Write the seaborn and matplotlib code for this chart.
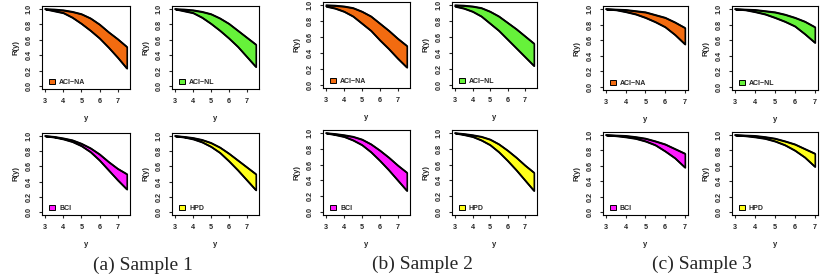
import matplotlib
matplotlib.use("Agg")
import matplotlib.pyplot as plt
from matplotlib.patches import Patch
import seaborn as sns

y_12 = [3.0, 3.5, 4.0, 4.5, 5.0, 5.5, 6.0, 6.5, 7.0, 7.5]
y_3 = [3.0, 3.5, 4.0, 4.5, 5.0, 5.5, 6.0, 6.5, 7.0]

methods = ["ACI\u2212NA", "ACI\u2212NL", "BCI", "HPD"]
fill_colors = ["#F26B10", "#66F23A", "#FF1AFF", "#FFFF1A"]
captions = ["(a) Sample 1", "(b) Sample 2", "(c) Sample 3"]

# Sample 1 : upper / lower bounds
s1_acina_up = [1.00, 0.995, 0.985, 0.965, 0.935, 0.88, 0.80, 0.70, 0.61, 0.51]
s1_acina_lo = [1.00, 0.975, 0.95, 0.89, 0.81, 0.72, 0.62, 0.50, 0.37, 0.23]
s1_acinl_up = [1.00, 0.995, 0.985, 0.965, 0.935, 0.88, 0.81, 0.72, 0.63, 0.54]
s1_acinl_lo = [1.00, 0.975, 0.95, 0.89, 0.81, 0.72, 0.62, 0.51, 0.38, 0.25]
s1_bci_up = [1.00, 0.99, 0.97, 0.945, 0.90, 0.84, 0.76, 0.66, 0.57, 0.50]
s1_bci_lo = [1.00, 0.985, 0.96, 0.925, 0.87, 0.79, 0.68, 0.55, 0.42, 0.30]
s1_hpd_up = [1.00, 0.99, 0.975, 0.95, 0.91, 0.85, 0.77, 0.68, 0.59, 0.50]
s1_hpd_lo = [1.00, 0.985, 0.96, 0.92, 0.86, 0.78, 0.67, 0.55, 0.42, 0.29]

# Sample 2
s2_acina_up = [1.00, 0.995, 0.985, 0.965, 0.92, 0.86, 0.77, 0.68, 0.58, 0.49]
s2_acina_lo = [0.985, 0.96, 0.92, 0.86, 0.77, 0.68, 0.56, 0.45, 0.33, 0.22]
s2_acinl_up = [1.00, 0.995, 0.985, 0.965, 0.92, 0.86, 0.78, 0.70, 0.61, 0.52]
s2_acinl_lo = [0.985, 0.96, 0.92, 0.86, 0.77, 0.68, 0.57, 0.46, 0.35, 0.24]
s2_bci_up = [1.00, 0.99, 0.975, 0.955, 0.92, 0.86, 0.78, 0.69, 0.59, 0.50]
s2_bci_lo = [1.00, 0.98, 0.955, 0.91, 0.85, 0.76, 0.65, 0.53, 0.40, 0.27]
s2_hpd_up = [1.00, 0.99, 0.975, 0.955, 0.92, 0.86, 0.78, 0.69, 0.59, 0.50]
s2_hpd_lo = [1.00, 0.98, 0.955, 0.91, 0.85, 0.76, 0.65, 0.53, 0.40, 0.27]

# Sample 3
s3_acina_up = [1.00, 0.995, 0.99, 0.975, 0.96, 0.925, 0.89, 0.83, 0.76]
s3_acina_lo = [1.00, 0.99, 0.965, 0.935, 0.89, 0.835, 0.77, 0.67, 0.55]
s3_acinl_up = [1.00, 0.995, 0.99, 0.975, 0.96, 0.93, 0.89, 0.84, 0.77]
s3_acinl_lo = [1.00, 0.99, 0.965, 0.935, 0.89, 0.84, 0.78, 0.68, 0.57]
s3_bci_up = [1.00, 0.995, 0.99, 0.975, 0.955, 0.92, 0.88, 0.82, 0.76]
s3_bci_lo = [1.00, 0.99, 0.975, 0.955, 0.92, 0.87, 0.79, 0.70, 0.58]
s3_hpd_up = [1.00, 0.995, 0.99, 0.975, 0.955, 0.92, 0.88, 0.82, 0.76]
s3_hpd_lo = [1.00, 0.99, 0.975, 0.955, 0.92, 0.87, 0.80, 0.71, 0.59]

samples = [
    (y_12, [(s1_acina_up, s1_acina_lo), (s1_acinl_up, s1_acinl_lo),
            (s1_bci_up, s1_bci_lo), (s1_hpd_up, s1_hpd_lo)]),
    (y_12, [(s2_acina_up, s2_acina_lo), (s2_acinl_up, s2_acinl_lo),
            (s2_bci_up, s2_bci_lo), (s2_hpd_up, s2_hpd_lo)]),
    (y_3, [(s3_acina_up, s3_acina_lo), (s3_acinl_up, s3_acinl_lo),
           (s3_bci_up, s3_bci_lo), (s3_hpd_up, s3_hpd_lo)]),
]

sns.set_style("ticks")
plt.rcParams["font.family"] = ["Liberation Sans", "DejaVu Sans"]

W, H = 828, 279
fig = plt.figure(figsize=(W / 100, H / 100), dpi=100)

# panel boxes in pixels: (left, right, top, bottom) for TL, TR, BL, BR
boxes = [
    [(42, 130, 6, 89), (172, 259, 6, 89), (42, 130, 133, 215), (172, 259, 133, 215)],
    [(323, 410, 2, 88), (452, 537, 2, 88), (323, 410, 130, 215), (452, 537, 130, 215)],
    [(603, 688, 6, 90), (732, 818, 6, 90), (603, 688, 132, 215), (732, 818, 132, 215)],
]
caption_pos = [(143, 265), (422, 264), (702, 264)]

for si, (grid, bands) in enumerate(samples):
    for k, (up, lo) in enumerate(bands):
        l, r, t, b = boxes[si][k]
        ax = fig.add_axes([l / W, 1 - b / H, (r - l) / W, (b - t) / H])
        ax.fill_between(grid, lo, up, facecolor=fill_colors[k],
                        edgecolor="black", linewidth=1.2)
        sns.lineplot(x=grid, y=up, ax=ax, color="black", lw=1.2)
        sns.lineplot(x=grid, y=lo, ax=ax, color="black", lw=1.2)
        span = grid[-1] - grid[0]
        ax.set_xlim(grid[0] - 0.04 * span, grid[-1] + 0.04 * span)
        ax.set_ylim(-0.04, 1.04)
        ax.set_xticks([3, 4, 5, 6, 7])
        ax.set_yticks([0.0, 0.2, 0.4, 0.6, 0.8, 1.0])
        ax.set_yticklabels(["0.0", "0.2", "0.4", "0.6", "0.8", "1.0"],
                           rotation=90, va="center")
        ax.tick_params(labelsize=5.2, length=2.5, width=0.8, pad=4)
        for lab in ax.get_xticklabels() + ax.get_yticklabels():
            lab.set_fontweight("bold")
        for sp in ax.spines.values():
            sp.set_visible(True)
            sp.set_linewidth(0.8)
            sp.set_color("black")
        ax.set_xlabel("y", fontsize=5.5, fontweight="bold", labelpad=7)
        ax.set_ylabel("R(y)", fontsize=5.5, fontweight="bold", labelpad=5)
        handle = Patch(facecolor=fill_colors[k], edgecolor="black", linewidth=0.7)
        ax.legend([handle], [methods[k]], loc="lower left", frameon=False,
                  prop={"size": 5, "weight": "bold"}, handlelength=0.9,
                  handleheight=0.9, handletextpad=0.6, borderaxespad=0.15,
                  borderpad=0.3, bbox_to_anchor=(0.04, 0.0))
    cx, cy = caption_pos[si]
    fig.text(cx / W, 1 - cy / H, captions[si], ha="center", va="center",
             fontsize=14, family="Liberation Serif")

fig.savefig("out.png", dpi=100)
